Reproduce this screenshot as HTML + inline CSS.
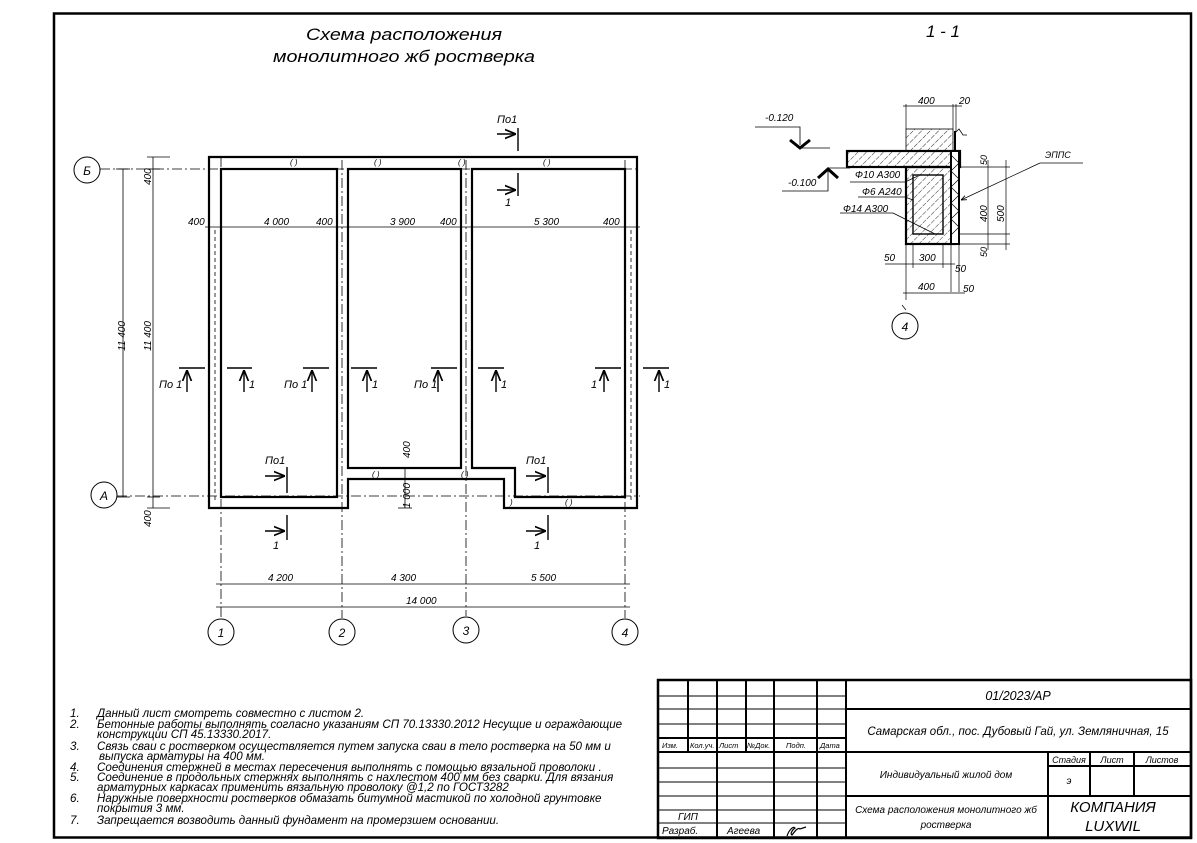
<!DOCTYPE html>
<html><head><meta charset="utf-8"><style>
body{margin:0;background:#fff}
svg{display:block}
text{font-family:"Liberation Sans",sans-serif;font-style:italic;fill:#000}
</style></head><body>
<svg width="1197" height="843" viewBox="0 0 1197 843" xmlns="http://www.w3.org/2000/svg">
<defs>
<pattern id="h" width="6" height="6" patternUnits="userSpaceOnUse" patternTransform="rotate(45)">
<line x1="0" y1="0" x2="0" y2="6" stroke="#000" stroke-width="0.8" stroke-dasharray="3.5 1.2"/>
</pattern>
<marker id="ar" viewBox="0 0 10 10" refX="10" refY="5" markerWidth="8" markerHeight="8" orient="auto"><path d="M0,1 L10,5 L0,9" fill="none" stroke="#000" stroke-width="1.5"/></marker>
</defs>
<rect x="0" y="0" width="1197" height="843" fill="#fff"/>
<rect x="54" y="13.5" width="1137" height="824" fill="none" stroke="#000" stroke-width="2.5"/>

<text x="404" y="40" font-size="17" text-anchor="middle" textLength="196" lengthAdjust="spacingAndGlyphs">Схема расположения</text>
<text x="404" y="62" font-size="17" text-anchor="middle" textLength="262" lengthAdjust="spacingAndGlyphs">монолитного жб ростверка</text>
<text x="943" y="37" font-size="17" text-anchor="middle">1 - 1</text>

<g stroke="#000" stroke-width="0.8" stroke-dasharray="10 3 2 3" fill="none">
<line x1="100" y1="169" x2="640" y2="169"/>
<line x1="117" y1="496" x2="640" y2="496"/>
<line x1="221" y1="157" x2="221" y2="618"/>
<line x1="342" y1="160" x2="342" y2="618"/>
<line x1="466" y1="160" x2="466" y2="616"/>
<line x1="625" y1="160" x2="625" y2="618"/>
</g>

<g fill="none" stroke="#000" stroke-width="2.2">
<path d="M209,157 H637 V508 H504 V479 H348 V508 H209 Z"/>
<rect x="221" y="169" width="116" height="328"/>
<rect x="348" y="169" width="113" height="299"/>
<path d="M472,169 H625 V497 H515 V468 H472 Z"/>
</g>
<g font-size="8" font-style="normal">
<text x="290" y="165">( )</text><text x="374" y="165">( )</text><text x="458" y="165">( )</text><text x="543" y="165">( )</text>
<text x="372" y="477">( )</text><text x="461" y="477">( )</text><text x="565" y="505">( )</text><text x="510" y="505">)</text>
</g>
<g stroke="#000" stroke-width="0.8" stroke-dasharray="4 3">
<line x1="215" y1="230" x2="215" y2="500"/><line x1="631" y1="230" x2="631" y2="500"/>
</g>

<g stroke="#000" stroke-width="0.8" fill="none">
<line x1="123" y1="169" x2="123" y2="497"/>
<line x1="116" y1="169" x2="130" y2="169"/><line x1="116" y1="497" x2="130" y2="497"/>
<line x1="153" y1="157" x2="153" y2="508"/>
<line x1="147" y1="157" x2="170" y2="157"/><line x1="147" y1="508" x2="170" y2="508"/>
<line x1="147" y1="169" x2="160" y2="169"/><line x1="147" y1="497" x2="160" y2="497"/>
<line x1="205" y1="227" x2="640" y2="227"/>
<line x1="216" y1="584" x2="630" y2="584"/>
<line x1="216" y1="607" x2="630" y2="607"/>
<line x1="405" y1="468" x2="405" y2="508"/>
<line x1="398" y1="479" x2="412" y2="479"/><line x1="398" y1="508" x2="412" y2="508"/>
</g>
<g font-size="10">
<text transform="translate(125,336) rotate(-90)" text-anchor="middle">11 400</text>
<text transform="translate(151,336) rotate(-90)" text-anchor="middle">11 400</text>
<text transform="translate(151,185) rotate(-90)">400</text>
<text transform="translate(151,527) rotate(-90)">400</text>
<text transform="translate(410,458) rotate(-90)">400</text>
<text transform="translate(410,508) rotate(-90)">1 000</text>
<text x="188" y="225">400</text><text x="264" y="225">4 000</text><text x="316" y="225">400</text>
<text x="390" y="225">3 900</text><text x="440" y="225">400</text>
<text x="534" y="225">5 300</text><text x="603" y="225">400</text>
<text x="268" y="581">4 200</text><text x="391" y="581">4 300</text><text x="531" y="581">5 500</text>
<text x="406" y="604">14 000</text>
</g>

<g fill="#fff" stroke="#000" stroke-width="1">
<circle cx="87" cy="170" r="13"/><circle cx="104" cy="495" r="13"/>
<circle cx="221" cy="632" r="13"/><circle cx="342" cy="632" r="13"/>
<circle cx="466" cy="630" r="13"/><circle cx="625" cy="632" r="13"/>
<circle cx="905" cy="326" r="13"/>
</g>
<g font-size="12" text-anchor="middle">
<text x="87" y="175">Б</text><text x="104" y="500">А</text>
<text x="221" y="637">1</text><text x="342" y="637">2</text><text x="466" y="635">3</text><text x="625" y="637">4</text>
<text x="905" y="331" font-style="normal">4</text>
</g>

<g stroke="#000" stroke-width="1.4" fill="none">
<line x1="179" y1="368" x2="205" y2="368"/><line x1="187" y1="392" x2="187" y2="370" marker-end="url(#ar)"/>
<line x1="227" y1="368" x2="252" y2="368"/><line x1="244" y1="392" x2="244" y2="370" marker-end="url(#ar)"/>
<line x1="303" y1="368" x2="329" y2="368"/><line x1="312" y1="392" x2="312" y2="370" marker-end="url(#ar)"/>
<line x1="351" y1="368" x2="377" y2="368"/><line x1="367" y1="392" x2="367" y2="370" marker-end="url(#ar)"/>
<line x1="431" y1="368" x2="457" y2="368"/><line x1="438" y1="392" x2="438" y2="370" marker-end="url(#ar)"/>
<line x1="478" y1="368" x2="504" y2="368"/><line x1="496" y1="392" x2="496" y2="370" marker-end="url(#ar)"/>
<line x1="595" y1="368" x2="621" y2="368"/><line x1="604" y1="392" x2="604" y2="370" marker-end="url(#ar)"/>
<line x1="643" y1="368" x2="669" y2="368"/><line x1="659" y1="392" x2="659" y2="370" marker-end="url(#ar)"/>
<line x1="518" y1="128" x2="518" y2="151"/><line x1="497" y1="134" x2="516" y2="134" marker-end="url(#ar)"/>
<line x1="518" y1="173" x2="518" y2="196"/><line x1="497" y1="190" x2="516" y2="190" marker-end="url(#ar)"/>
<line x1="287" y1="467" x2="287" y2="493"/><line x1="265" y1="476" x2="285" y2="476" marker-end="url(#ar)"/>
<line x1="287" y1="515" x2="287" y2="540"/><line x1="265" y1="531" x2="285" y2="531" marker-end="url(#ar)"/>
<line x1="548" y1="467" x2="548" y2="493"/><line x1="526" y1="476" x2="546" y2="476" marker-end="url(#ar)"/>
<line x1="548" y1="515" x2="548" y2="540"/><line x1="526" y1="531" x2="546" y2="531" marker-end="url(#ar)"/>
</g>
<g font-size="11">
<text x="159" y="388">По 1</text><text x="249" y="388">1</text>
<text x="284" y="388">По 1</text><text x="372" y="388">1</text>
<text x="414" y="388">По 1</text><text x="501" y="388">1</text>
<text x="591" y="388">1</text><text x="664" y="388">1</text>
<text x="497" y="123">По1</text><text x="505" y="206">1</text>
<text x="265" y="464">По1</text><text x="273" y="549">1</text>
<text x="526" y="464">По1</text><text x="534" y="549">1</text>
</g>

<g stroke="#000" fill="none">
<rect x="906" y="129" width="47" height="22" fill="url(#h)" stroke-width="0.8"/>
<rect x="847" y="151" width="113" height="16" fill="url(#h)" stroke-width="2.2"/>
<rect x="906" y="167" width="49" height="77" fill="url(#h)" stroke-width="2.2"/>
<rect x="951" y="151" width="8" height="93" fill="#fff" stroke-width="2"/>
<path d="M951,155 l8,8 l-8,8 l8,8 l-8,8 l8,8 l-8,8 l8,8 l-8,8 l8,8 l-8,8" stroke-width="0.7"/>
<rect x="913" y="175" width="30" height="59" stroke-width="1.4"/>
<line x1="955" y1="131" x2="955" y2="151" stroke-width="2"/>
<path d="M955,133 l4,-4 l4,6 h4" stroke-width="0.8"/>
<path d="M755,127 H800 V145 M800,148 H830" stroke-width="0.8"/>
<path d="M790,140 l10,8 l10,-8" stroke-width="3"/>
<path d="M782,191 H828 V168 H850" stroke-width="0.8"/>
<path d="M818,178 l10,-9 l10,9" stroke-width="3"/>
<g stroke-width="0.7">
<line x1="906" y1="104" x2="906" y2="129"/><line x1="953" y1="104" x2="953" y2="129"/>
<line x1="903" y1="106" x2="962" y2="106"/><line x1="956" y1="104" x2="956" y2="131"/>
<line x1="959" y1="167" x2="1010" y2="167"/><line x1="959" y1="234" x2="1010" y2="234"/>
<line x1="959" y1="244" x2="1010" y2="244"/>
<line x1="988" y1="160" x2="988" y2="250"/><line x1="1006" y1="160" x2="1006" y2="250"/>
<line x1="906" y1="244" x2="906" y2="300"/><line x1="913" y1="244" x2="913" y2="268"/>
<line x1="943" y1="244" x2="943" y2="268"/><line x1="951" y1="244" x2="951" y2="292"/><line x1="959" y1="244" x2="959" y2="292"/>
<line x1="885" y1="264" x2="955" y2="264"/><line x1="903" y1="293" x2="965" y2="293"/>
<line x1="902" y1="305" x2="906" y2="310"/>
<line x1="1040" y1="163" x2="961" y2="200" marker-end="url(#ar)"/>
<line x1="1040" y1="163" x2="1083" y2="163"/>
<line x1="850" y1="182" x2="905" y2="182"/><line x1="905" y1="182" x2="918" y2="176"/>
<line x1="858" y1="197" x2="905" y2="197"/><line x1="905" y1="197" x2="913" y2="200"/>
<line x1="840" y1="213" x2="893" y2="213"/><line x1="893" y1="213" x2="935" y2="234"/>
</g>
</g>
<g font-size="10">
<text x="918" y="104">400</text><text x="959" y="104">20</text>
<text x="765" y="121">-0.120</text><text x="788" y="186">-0.100</text>
<text x="855" y="178">Ф10 А300</text><text x="862" y="195">Ф6 А240</text><text x="843" y="212">Ф14 А300</text>
<text x="1045" y="158" font-size="9">ЭППС</text>
<text transform="translate(987,165) rotate(-90)" font-size="9">50</text>
<text transform="translate(987,222) rotate(-90)">400</text>
<text transform="translate(1004,222) rotate(-90)">500</text>
<text transform="translate(987,257) rotate(-90)" font-size="9">50</text>
<text x="884" y="261">50</text><text x="919" y="261">300</text><text x="955" y="272">50</text>
<text x="918" y="290">400</text><text x="963" y="292">50</text>
</g>

<g font-size="11.6">
<text x="70" y="717">1.</text><text x="97" y="717">Данный лист смотреть совместно с листом 2.</text>
<text x="70" y="728">2.</text><text x="97" y="728">Бетонные работы выполнять согласно указаниям СП 70.13330.2012 Несущие и ограждающие</text>
<text x="97" y="738">конструкции СП 45.13330.2017.</text>
<text x="70" y="750">3.</text><text x="97" y="750">Связь сваи с ростверком осуществляется путем запуска сваи в тело ростверка на 50 мм и</text>
<text x="99" y="760">выпуска арматуры на 400 мм.</text>
<text x="70" y="771">4.</text><text x="97" y="771">Соединения стержней в местах пересечения выполнять с помощью вязальной проволоки .</text>
<text x="70" y="781">5.</text><text x="97" y="781">Соединение в продольных стержнях выполнять с нахлестом 400 мм без сварки. Для вязания</text>
<text x="97" y="791">арматурных каркасах применить вязальную проволоку @1,2 по ГОСТ3282</text>
<text x="70" y="802">6.</text><text x="97" y="802">Наружные поверхности ростверков обмазать битумной мастикой по холодной грунтовке</text>
<text x="97" y="812">покрытия 3 мм.</text>
<text x="70" y="824">7.</text><text x="97" y="824">Запрещается возводить данный фундамент на промерзшем основании.</text>
</g>

<g stroke="#000" fill="none">
<rect x="658" y="680" width="533" height="158" stroke-width="2.5"/>
<g stroke-width="2">
<line x1="846" y1="680" x2="846" y2="838"/>
<line x1="688" y1="680" x2="688" y2="752"/><line x1="717" y1="680" x2="717" y2="838"/>
<line x1="746" y1="680" x2="746" y2="752"/><line x1="774" y1="680" x2="774" y2="838"/>
<line x1="817" y1="680" x2="817" y2="838"/>
<line x1="658" y1="738" x2="846" y2="738"/><line x1="658" y1="752" x2="846" y2="752"/>
<line x1="846" y1="709" x2="1191" y2="709"/><line x1="846" y1="752" x2="1191" y2="752"/>
<line x1="846" y1="796" x2="1191" y2="796"/>
<line x1="1048" y1="752" x2="1048" y2="838"/><line x1="1090" y1="752" x2="1090" y2="796"/>
<line x1="1134" y1="752" x2="1134" y2="796"/>
<line x1="1048" y1="766" x2="1191" y2="766"/>
</g>
<g stroke-width="1">
<line x1="658" y1="696" x2="846" y2="696"/><line x1="658" y1="709" x2="846" y2="709"/><line x1="658" y1="724" x2="846" y2="724"/>
<line x1="658" y1="768" x2="846" y2="768"/><line x1="658" y1="782" x2="846" y2="782"/><line x1="658" y1="796" x2="846" y2="796"/>
<line x1="658" y1="810" x2="846" y2="810"/><line x1="658" y1="823" x2="846" y2="823"/>
</g>
<path d="M787,836 c2,-6 6,-10 8,-8 c-3,2 -5,6 -3,7 c3,-4 6,-8 8,-6 l6,-2" stroke-width="1.2"/>
</g>
<g font-size="7.5">
<text x="662" y="748">Изм.</text><text x="690" y="748">Кол.уч.</text><text x="719" y="748">Лист</text><text x="747" y="748">№Док.</text>
<text x="786" y="748">Подп.</text><text x="820" y="748">Дата</text>
</g>
<g font-size="10">
<text x="678" y="820">ГИП</text><text x="662" y="834">Разраб.</text><text x="727" y="834">Агеева</text>
<text x="1018" y="700" font-size="12.5" text-anchor="middle">01/2023/АР</text>
<text x="1018" y="735" font-size="11.5" text-anchor="middle">Самарская обл., пос. Дубовый Гай, ул. Земляничная, 15</text>
<text x="946" y="778" text-anchor="middle">Индивидуальный жилой дом</text>
<text x="946" y="813" text-anchor="middle">Схема расположения монолитного жб</text>
<text x="946" y="828" text-anchor="middle">ростверка</text>
<text x="1069" y="763" font-size="9" text-anchor="middle">Стадия</text>
<text x="1112" y="763" font-size="9" text-anchor="middle">Лист</text>
<text x="1162" y="763" font-size="9" text-anchor="middle">Листов</text>
<text x="1069" y="784" text-anchor="middle">э</text>
<text x="1113" y="812" font-size="15" text-anchor="middle">КОМПАНИЯ</text>
<text x="1113" y="831" font-size="15" text-anchor="middle">LUXWIL</text>
</g>
</svg>
</body></html>
